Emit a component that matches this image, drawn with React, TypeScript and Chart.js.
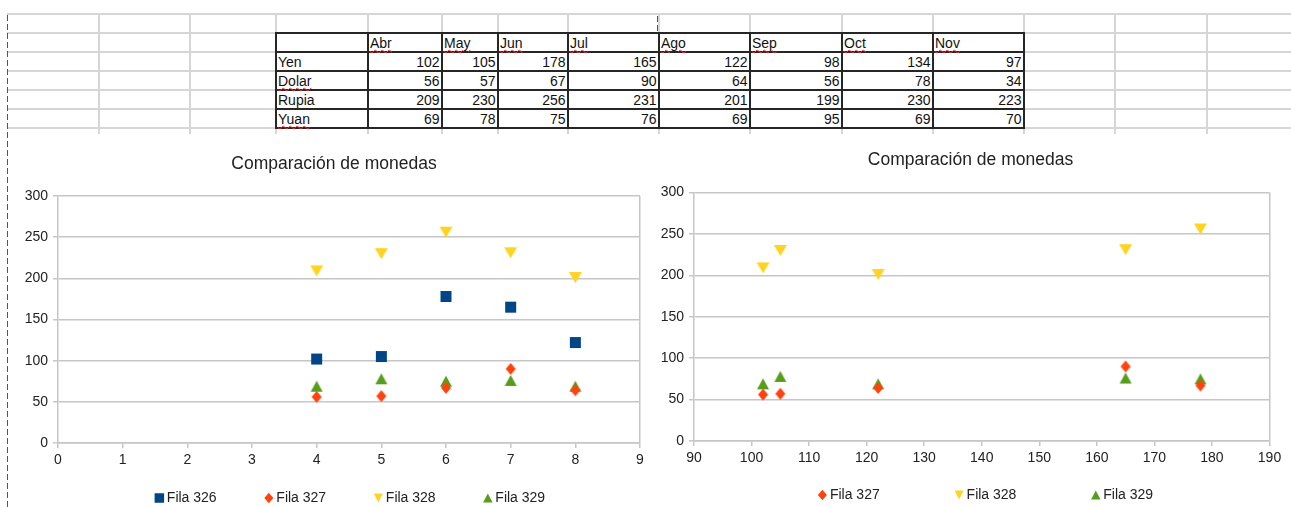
import React, { useEffect, useRef } from 'react';
import { Chart, registerables } from 'chart.js';

Chart.register(...registerables);

// ---------- spreadsheet data ----------
const months = ['Abr', 'May', 'Jun', 'Jul', 'Ago', 'Sep', 'Oct', 'Nov'];
const rowNames = ['Yen', 'Dolar', 'Rupia', 'Yuan'];
const yen = [102, 105, 178, 165, 122, 98, 134, 97];
const dolar = [56, 57, 67, 90, 64, 56, 78, 34];
const rupia = [209, 230, 256, 231, 201, 199, 230, 223];
const yuan = [69, 78, 75, 76, 69, 95, 69, 70];
const flaggedWords = ['Dolar', 'Yuan'];

// ---------- chart data ----------
const chartTitle = 'Comparación de monedas';
const seriesNames = ['Fila 326', 'Fila 327', 'Fila 328', 'Fila 329'];

// left chart (x = 4..8)
const leftX = [4, 5, 6, 7, 8];
const left326 = [102, 105, 178, 165, 122];
const left327 = [56, 57, 67, 90, 64];
const left328 = [209, 230, 256, 231, 201];
const left329 = [69, 78, 75, 76, 69];

// right chart (x = Yen values)
const rightX = [102, 105, 178, 165, 122];
const right327 = [56, 57, 67, 90, 64];
const right328 = [209, 230, 256, 231, 201];
const right329 = [69, 78, 75, 76, 69];

const leftXTicks = [0, 9, 1];
const rightXTicks = [90, 190, 10];
const yTicks = [0, 300, 50];

// ---------- styles ----------
const FONT = "'Liberation Sans', Arial, sans-serif";
const GRID = '#c6c6c6';
const TEXT = '#222222';
const CELL_GRID = '#d6d6d6';
const CELL_BORDER = '#262626';

const markerStyles: Record<string, any> = {
  'Fila 326': { color: '#004586', shape: 'square', w: 11, h: 11, lw: 9.5, lh: 9.5 },
  'Fila 327': { color: '#ff420e', shape: 'diamond', w: 10, h: 12, lw: 9, lh: 10.5 },
  'Fila 328': { color: '#ffd320', shape: 'down', w: 13, h: 11, lw: 9, lh: 9 },
  'Fila 329': { color: '#579d1c', shape: 'up', w: 12, h: 11, lw: 9.5, lh: 9 },
};

function traceShape(ctx: CanvasRenderingContext2D, shape: string, cx: number, cy: number, w: number, h: number) {
  const hw = w / 2, hh = h / 2;
  ctx.beginPath();
  if (shape === 'square') {
    ctx.rect(cx - hw, cy - hh, w, h);
  } else if (shape === 'diamond') {
    ctx.moveTo(cx, cy - hh);
    ctx.lineTo(cx + hw, cy);
    ctx.lineTo(cx, cy + hh);
    ctx.lineTo(cx - hw, cy);
  } else if (shape === 'down') {
    ctx.moveTo(cx - hw, cy - hh);
    ctx.lineTo(cx + hw, cy - hh);
    ctx.lineTo(cx, cy + hh);
  } else {
    ctx.moveTo(cx, cy - hh);
    ctx.lineTo(cx + hw, cy + hh);
    ctx.lineTo(cx - hw, cy + hh);
  }
  ctx.closePath();
}

function markerCanvas(name: string) {
  const m = markerStyles[name];
  const c = document.createElement('canvas');
  c.width = Math.ceil(m.w) + 2;
  c.height = Math.ceil(m.h) + 2;
  const ctx = c.getContext('2d') as CanvasRenderingContext2D;
  ctx.fillStyle = m.color;
  traceShape(ctx, m.shape, c.width / 2, c.height / 2, m.w, m.h);
  ctx.fill();
  return c;
}

function makeDataset(name: string, xs: number[], ys: number[]) {
  const m = markerStyles[name];
  return {
    label: name,
    data: xs.map((x, i) => ({ x, y: ys[i] })),
    backgroundColor: m.color,
    borderColor: m.color,
    borderWidth: 0,
    pointStyle: markerCanvas(name),
    pointRadius: 6,
    pointHoverRadius: 6,
    showLine: false,
  };
}

const overlayPlugin = {
  id: 'overlay',
  afterDraw(chart: any, _args: any, opts: any) {
    const ctx: CanvasRenderingContext2D = chart.ctx;
    ctx.save();
    // title
    ctx.font = `17.5px ${FONT}`;
    ctx.fillStyle = TEXT;
    ctx.textAlign = 'center';
    ctx.textBaseline = 'middle';
    ctx.fillText(chartTitle, opts.titleX, opts.titleY);
    // legend
    const names: string[] = chart.data.datasets.map((d: any) => d.label);
    ctx.font = `14px ${FONT}`;
    ctx.textAlign = 'left';
    const lastW = ctx.measureText(names[names.length - 1]).width;
    const total = 4.5 + (names.length - 1) * opts.spacing + 7.5 + lastW;
    const x0 = opts.cx - total / 2 + 4.5;
    names.forEach((n, i) => {
      const x = x0 + i * opts.spacing;
      const m = markerStyles[n];
      ctx.fillStyle = m.color;
      traceShape(ctx, m.shape, x, opts.cy, m.lw, m.lh);
      ctx.fill();
      ctx.fillStyle = TEXT;
      ctx.fillText(n, x + 7.5, opts.cy + 0.5);
    });
    ctx.restore();
  },
};

function makeConfig(p: any) {
  const [xMin, xMax, xStep] = p.xTicks;
  const tickFont = { family: FONT, size: 14 };
  return {
    type: 'scatter',
    data: { datasets: p.datasets },
    plugins: [overlayPlugin],
    options: {
      animation: false,
      responsive: false,
      devicePixelRatio: 1,
      events: [],
      layout: { padding: p.padding },
      plugins: {
        legend: { display: false },
        tooltip: { enabled: false },
        title: { display: false, text: chartTitle },
        overlay: p.overlay,
      },
      scales: {
        x: {
          type: 'linear',
          min: xMin,
          max: xMax,
          ticks: { stepSize: xStep, font: tickFont, color: TEXT, padding: 3.5, maxRotation: 0 },
          grid: {
            color: (c: any) => (c.tick && c.tick.value === xMax ? GRID : 'rgba(0,0,0,0)'),
            tickColor: GRID,
            tickLength: 5,
            lineWidth: 1.5,
          },
          border: { display: true, color: GRID, width: 1.5 },
          afterFit: (s: any) => { s.height = 40; },
        },
        y: {
          type: 'linear',
          min: yTicks[0],
          max: yTicks[1],
          ticks: { stepSize: yTicks[2], font: tickFont, color: TEXT, padding: 5 },
          grid: { color: GRID, tickColor: GRID, tickLength: 5, lineWidth: 1.5 },
          border: { display: true, color: GRID, width: 1.5 },
          afterFit: (s: any) => { s.width = p.yWidth; },
        },
      },
    },
  };
}

function ScatterCanvas(props: any) {
  const ref = useRef<HTMLCanvasElement>(null);
  useEffect(() => {
    const chart = new Chart(ref.current as HTMLCanvasElement, makeConfig(props) as any);
    return () => chart.destroy();
  }, []);
  return (
    <canvas
      ref={ref}
      width={props.w}
      height={props.h}
      style={{ position: 'absolute', left: props.left, top: props.top, width: props.w, height: props.h }}
    />
  );
}

// spreadsheet geometry
const rowLines = [14, 33, 52, 71, 90, 109, 128];
const tableCols = [276, 368, 442, 498, 568, 659, 750, 842, 933, 1024];
const extraCols = [99, 190, 1115, 1207];

function Sheet() {
  const els: any[] = [];
  rowLines.forEach((y, i) =>
    els.push(<div key={'h' + i} style={{ position: 'absolute', left: 7, top: y - 1, width: 1284, height: 2, background: CELL_GRID }} />)
  );
  [...extraCols, ...tableCols].forEach((x, i) =>
    els.push(<div key={'v' + i} style={{ position: 'absolute', left: x - 1, top: 14, width: 2, height: 120, background: CELL_GRID }} />)
  );
  rowLines.slice(1).forEach((y, i) =>
    els.push(<div key={'bh' + i} style={{ position: 'absolute', left: 276 - 1, top: y - 1, width: 1024 - 276 + 2, height: 2, background: CELL_BORDER }} />)
  );
  tableCols.forEach((x, i) =>
    els.push(<div key={'bv' + i} style={{ position: 'absolute', left: x - 1, top: 33 - 1, width: 2, height: 128 - 33 + 2, background: CELL_BORDER }} />)
  );
  const cellText = (key: string, text: string, left: number, right: number, top: number, align: 'left' | 'right', flagged: boolean) => (
    <div
      key={key}
      style={{
        position: 'absolute', left: left + 2, top: top + 0.5, width: right - left - 4.5, height: 19,
        lineHeight: '19px', fontSize: 14, fontFamily: FONT, color: '#111', textAlign: align, whiteSpace: 'nowrap',
      }}
    >
      <span
        style={flagged ? {
          textDecorationLine: 'underline', textDecorationStyle: 'wavy', textDecorationColor: '#ee3333',
          textDecorationThickness: '1px', textUnderlineOffset: '1px',
        } : {}}
      >
        {text}
      </span>
    </div>
  );
  months.forEach((m, i) => els.push(cellText('m' + i, m, tableCols[i + 1], tableCols[i + 2], 33, 'left', true)));
  const rows = [yen, dolar, rupia, yuan];
  rowNames.forEach((r, ri) => {
    const top = rowLines[ri + 2];
    els.push(cellText('r' + ri, r, tableCols[0], tableCols[1], top, 'left', flaggedWords.includes(r)));
    rows[ri].forEach((v, ci) => els.push(cellText(`c${ri}_${ci}`, String(v), tableCols[ci + 1], tableCols[ci + 2], top, 'right', false)));
  });
  return <>{els}</>;
}

export default function App() {
  const dashed = 'repeating-linear-gradient(to bottom, #555 0px, #555 6px, rgba(0,0,0,0) 6px, rgba(0,0,0,0) 9px)';
  return (
    <div style={{ position: 'fixed', left: 0, top: 0, width: 1291, height: 507, background: '#fff', overflow: 'hidden' }}>
      <Sheet />
      <div style={{ position: 'absolute', left: 7, top: 15, width: 1, height: 492, background: dashed }} />
      <div style={{ position: 'absolute', left: 657, top: 16, width: 1, height: 15, background: dashed }} />
      <ScatterCanvas
        left={9} top={135} w={648} h={372}
        xTicks={leftXTicks}
        padding={{ top: 61, left: 0, right: 17, bottom: 24 }}
        yWidth={49}
        overlay={{ titleX: 325, titleY: 29, cx: 341, cy: 363, spacing: 109.5 }}
        datasets={[
          makeDataset(seriesNames[0], leftX, left326),
          makeDataset(seriesNames[1], leftX, left327),
          makeDataset(seriesNames[2], leftX, left328),
          makeDataset(seriesNames[3], leftX, left329),
        ]}
      />
      <ScatterCanvas
        left={658} top={135} w={633} h={372}
        xTicks={rightXTicks}
        padding={{ top: 57.5, left: 0, right: 21.5, bottom: 26 }}
        yWidth={36}
        overlay={{ titleX: 312.5, titleY: 25, cx: 327.5, cy: 360, spacing: 136.7 }}
        datasets={[
          makeDataset(seriesNames[1], rightX, right327),
          makeDataset(seriesNames[2], rightX, right328),
          makeDataset(seriesNames[3], rightX, right329),
        ]}
      />
    </div>
  );
}
